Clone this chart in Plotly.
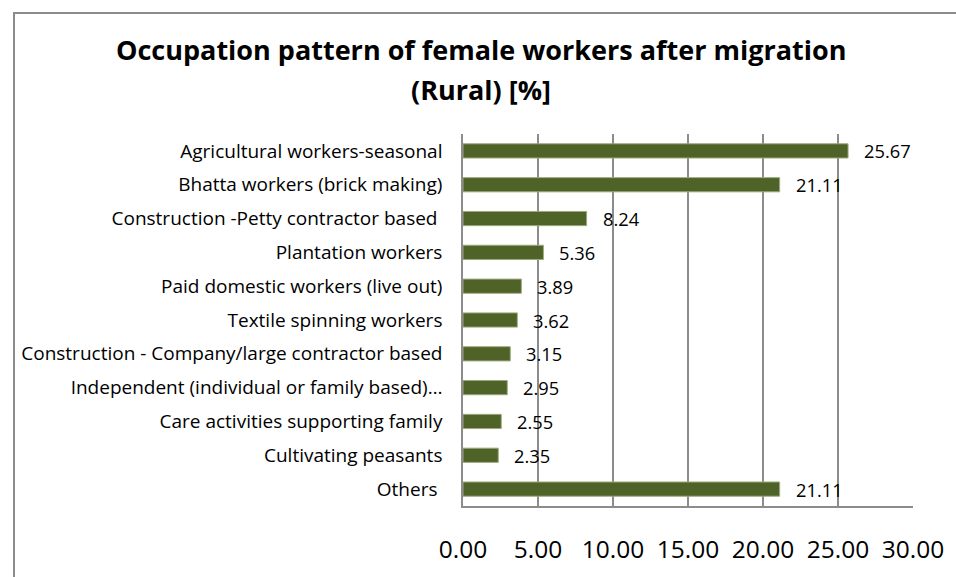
import plotly.graph_objects as go

categories = [
    "Agricultural workers-seasonal",
    "Bhatta workers (brick making)",
    "Construction -Petty contractor based ",
    "Plantation workers",
    "Paid domestic workers (live out)",
    "Textile spinning workers",
    "Construction - Company/large contractor based",
    "Independent (individual or family based)\u2026",
    "Care activities supporting family",
    "Cultivating peasants",
    "Others ",
]
values = [25.67, 21.11, 8.24, 5.36, 3.89, 3.62, 3.15, 2.95, 2.55, 2.35, 21.11]
x_ticks = [0, 5, 10, 15, 20, 25, 30]
x_tick_labels = ["0.00", "5.00", "10.00", "15.00", "20.00", "25.00", "30.00"]

FONT = "Open Sans"
W, H = 956, 577
L, R, T, B = 463, 914, 134, 518
pw, ph = R - L, B - T


def px(xp):
    return (xp - L) / pw


def py(yp):
    return (B - yp) / ph


fig = go.Figure(go.Bar(
    y=categories, x=values, orientation="h",
    marker=dict(color="#4F6228", line=dict(color="#9BAA7E", width=1)),
    width=0.42,
))

for c, v in zip(categories, values):
    fig.add_annotation(x=v, y=c, text=f"{v:.2f}", showarrow=False,
                       xanchor="left", xshift=14,
                       font=dict(family=FONT, size=18.3, color="#000"))

fig.add_annotation(x=px(481), y=py(47), xref="paper", yref="paper", xanchor="center", yanchor="middle",
                   text="<b>Occupation pattern of female workers after migration</b>",
                   showarrow=False, font=dict(family=FONT, size=27, color="#000"))
fig.add_annotation(x=px(481), y=py(88), xref="paper", yref="paper", xanchor="center", yanchor="middle",
                   text="<b>(Rural) [%]</b>",
                   showarrow=False, font=dict(family=FONT, size=27, color="#000"))

# outer chart frame (top and left edges visible)
fig.add_shape(type="path", xref="paper", yref="paper",
              path=f"M {px(13)} {py(640)} L {px(13)} {py(9)} L {px(1000)} {py(9)}",
              line=dict(color="#8C8C8C", width=2))

fig.update_layout(
    width=W, height=H,
    margin=dict(l=L, r=W - R, t=T, b=H - B),
    paper_bgcolor="white", plot_bgcolor="white",
    showlegend=False,
    xaxis=dict(range=[0, 30], tickvals=x_ticks, ticktext=x_tick_labels,
               showgrid=True, gridcolor="#8C8C8C", gridwidth=1.5,
               showline=True, linecolor="#8C8C8C", linewidth=1.5, mirror=False,
               zeroline=False, ticks="", ticklabelstandoff=21,
               tickfont=dict(family=FONT, size=24.5, color="#000"), fixedrange=True),
    yaxis=dict(autorange="reversed", showline=True, linecolor="#8C8C8C", linewidth=1.5,
               showgrid=False, ticks="", ticklabelstandoff=15,
               tickfont=dict(family=FONT, size=19, color="#000"), fixedrange=True),
)

fig.write_html(
    "out.html",
    config={"displayModeBar": False},
    post_script="document.body.style.margin='0';document.body.style.overflow='hidden';",
)
